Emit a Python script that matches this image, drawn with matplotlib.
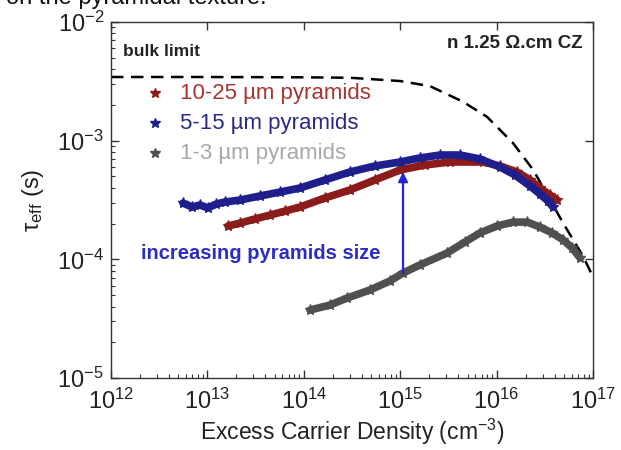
import matplotlib
matplotlib.use("Agg")
import matplotlib.pyplot as plt
from matplotlib.ticker import LogLocator, LogFormatterMathtext, NullFormatter

plt.rcParams['font.family'] = ['Liberation Sans', 'DejaVu Sans']
plt.rcParams['mathtext.fontset'] = 'custom'
plt.rcParams['mathtext.rm'] = 'Liberation Sans'
plt.rcParams['mathtext.it'] = 'Liberation Sans:italic'
plt.rcParams['mathtext.bf'] = 'Liberation Sans:bold'

# ---- data ----
blue_x = [5.58e12, 6.92e12, 8.38e12, 1.01e13, 1.23e13, 1.52e13, 2.18e13, 3.51e13,
          5.66e13, 9.14e13, 1.66e14, 3.01e14, 5.48e14, 9.95e14, 1.60e15, 2.59e15,
          4.17e15, 6.73e15, 1.08e16, 1.55e16, 2.22e16, 2.82e16, 3.41e16, 3.85e16]
blue_y = [2.98e-4, 2.76e-4, 2.87e-4, 2.71e-4, 2.92e-4, 3.04e-4, 3.16e-4, 3.42e-4,
          3.69e-4, 3.99e-4, 4.67e-4, 5.45e-4, 6.12e-4, 6.61e-4, 7.15e-4, 7.57e-4,
          7.57e-4, 7.01e-4, 6.00e-4, 5.14e-4, 4.15e-4, 3.55e-4, 3.10e-4, 2.76e-4]

red_x = [1.64e13, 2.18e13, 3.12e13, 4.46e13, 6.38e13, 9.14e13, 1.66e14, 3.01e14,
         5.48e14, 9.95e14, 1.81e15, 3.29e15, 7.23e15, 1.08e16, 1.63e16, 2.22e16,
         2.82e16, 3.58e16, 4.24e16]
red_y = [1.91e-4, 2.02e-4, 2.19e-4, 2.36e-4, 2.55e-4, 2.76e-4, 3.29e-4, 3.84e-4,
         4.67e-4, 5.66e-4, 6.24e-4, 6.61e-4, 6.61e-4, 6.12e-4, 5.45e-4, 4.67e-4,
         3.99e-4, 3.48e-4, 3.16e-4]

gray_x = [1.16e14, 1.87e14, 2.81e14, 4.86e14, 7.83e14, 1.07e15, 1.60e15, 3.06e15,
          4.70e15, 6.73e15, 1.01e16, 1.48e16, 2.07e16, 2.82e16, 3.76e16, 4.89e16,
          6.06e16, 7.33e16]
gray_y = [3.74e-5, 4.12e-5, 4.72e-5, 5.52e-5, 6.57e-5, 7.67e-5, 8.96e-5, 1.13e-4,
          1.40e-4, 1.67e-4, 1.91e-4, 2.06e-4, 2.06e-4, 1.87e-4, 1.67e-4, 1.46e-4,
          1.25e-4, 1.03e-4]

bulk_x = [1e12, 8.38e12, 9.12e13, 3.02e14, 1e15, 2.04e15, 4.47e15, 7.94e15,
          1.48e16, 2.40e16, 4.90e16, 7.94e16, 1e17]
bulk_y = [3.44e-3, 3.44e-3, 3.42e-3, 3.39e-3, 3.18e-3, 2.88e-3, 2.13e-3, 1.59e-3,
          9.55e-4, 5.66e-4, 2.02e-4, 1.05e-4, 7.10e-5]

arrow_x = 1.07e15
arrow_y0 = 7.67e-5
arrow_y1 = 5.45e-4

labels = ["10-25 \u00b5m pyramids", "5-15 \u00b5m pyramids", "1-3 \u00b5m pyramids"]
line_colors = ["#8c1c1c", "#1e1e8c", "#505050"]
text_colors = ["#a83434", "#2a2a80", "#a8a8a8"]

# ---- figure ----
fig = plt.figure(figsize=(6.21, 4.5), dpi=100)
ax = fig.add_axes([111/621, 1-378/450, 482/621, 356/450])

ax.plot(bulk_x, bulk_y, color='black', lw=1.8, dashes=(5, 3), zorder=2)
ax.plot(red_x, red_y, color=line_colors[0], lw=5.5, marker='*', ms=8,
        solid_capstyle='round', zorder=3)
ax.plot(blue_x, blue_y, color=line_colors[1], lw=5.5, marker='*', ms=8,
        solid_capstyle='round', zorder=4)
ax.plot(gray_x, gray_y, color=line_colors[2], lw=5.5, marker='*', ms=8,
        solid_capstyle='round', zorder=3)

ax.annotate('', xy=(arrow_x, arrow_y1), xytext=(arrow_x, arrow_y0),
            arrowprops=dict(arrowstyle='-|>', color='#2424d8', lw=1.6,
                            mutation_scale=14, shrinkA=0, shrinkB=0), zorder=5)

ax.set_xscale('log')
ax.set_yscale('log')
ax.set_xlim(1e12, 1e17)
ax.set_ylim(1e-5, 1e-2)

ax.xaxis.set_major_locator(LogLocator(base=10, numticks=10))
ax.yaxis.set_major_locator(LogLocator(base=10, numticks=10))
ax.xaxis.set_minor_locator(LogLocator(base=10, subs=range(2, 10), numticks=20))
ax.yaxis.set_minor_locator(LogLocator(base=10, subs=range(2, 10), numticks=20))
ax.xaxis.set_major_formatter(LogFormatterMathtext())
ax.yaxis.set_major_formatter(LogFormatterMathtext())
ax.xaxis.set_minor_formatter(NullFormatter())
ax.yaxis.set_minor_formatter(NullFormatter())

ax.tick_params(which='both', direction='in', colors='#333333', labelcolor='#222222')
ax.tick_params(which='major', length=6, width=1.0, labelsize=17, pad=5,
               top=True, right=True)
ax.tick_params(axis='x', which='major', pad=8)
ax.tick_params(which='minor', length=3, width=0.8, top=False, right=False)
for s in ax.spines.values():
    s.set_color('#333333')
    s.set_linewidth(1.0)

ax.set_xlabel('Excess Carrier Density (cm$^{-3}$)', fontsize=16.5, color='#222222', labelpad=2)
ax.set_ylabel('\u03c4$_{\\mathrm{eff}}$ (s)', fontsize=17, color='#222222', labelpad=8)

# legend (custom)
leg_y = [0.80, 0.716, 0.632]
for lab, lc, tc, yy in zip(labels, line_colors, text_colors, leg_y):
    ax.plot([0.091], [yy], marker='*', ms=7, color=lc, transform=ax.transAxes,
            clip_on=False, zorder=6)
    ax.text(0.143, yy, lab, color=tc, fontsize=16, va='center', ha='left',
            transform=ax.transAxes)

ax.text(0.025, 0.916, 'bulk limit', fontsize=12.5, fontweight='bold',
        color='#222222', va='center', ha='left', transform=ax.transAxes)
ax.text(0.979, 0.941, 'n 1.25 \u03a9.cm CZ', fontsize=13.5, fontweight='bold',
        color='#222222', va='center', ha='right', transform=ax.transAxes)
ax.text(0.062, 0.351, 'increasing pyramids size', fontsize=14.5, fontweight='bold',
        color='#2c2cc4', va='center', ha='left', transform=ax.transAxes)

fig.text(0.01, 1 - 4/450, 'on the pyramidal texture.', fontsize=17,
         va='baseline', ha='left', color='#111111')

fig.savefig('out.png', dpi=100)
